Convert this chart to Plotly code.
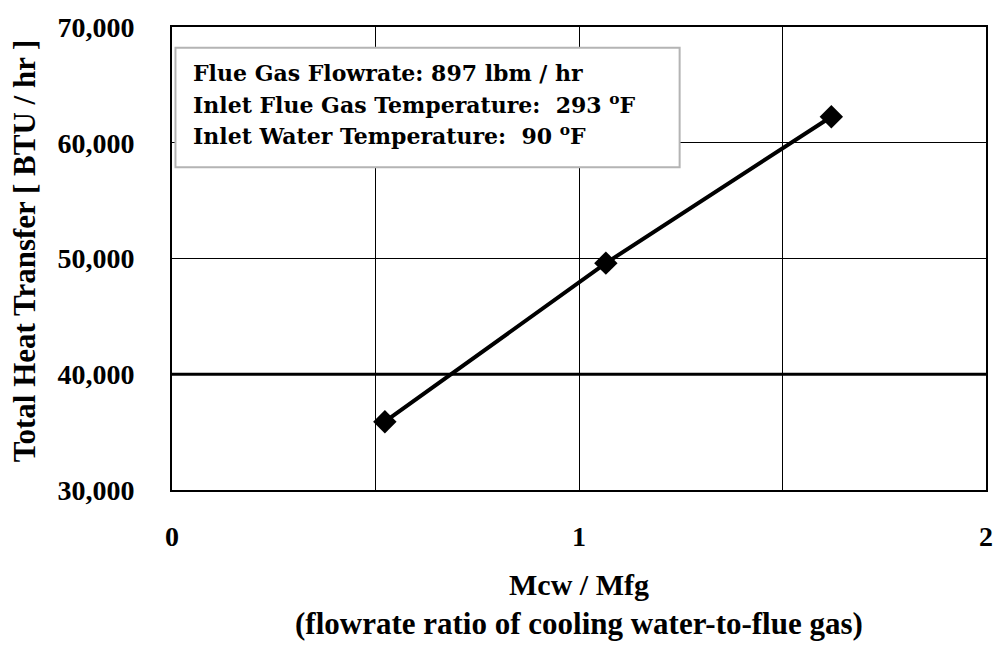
import plotly.graph_objects as go

# Heat recovery test: total heat transfer vs. cooling water / flue gas flow ratio
flow_ratio = [0.523, 1.066, 1.620]
heat_transfer = [35900, 49600, 62250]

x_tick_vals = [0, 1, 2]
x_tick_text = ["0", "1", "2"]
y_tick_vals = [30000, 40000, 50000, 60000, 70000]
y_tick_text = ["30,000", "40,000", "50,000", "60,000", "70,000"]

info_lines = [
    "Flue Gas Flowrate: 897 lbm / hr",
    "Inlet Flue Gas Temperature:\u00a0\u00a0293 <sup>o</sup>F",
    "Inlet Water Temperature:\u00a0\u00a090 <sup>o</sup>F",
]

FONT = "Liberation Serif"
BOX_FONT = "DejaVu Serif"

# plot area in pixels (used to place the free-standing labels)
L, T, W, H = 172, 21, 821, 469


def px_x(px):
    return (px - L) / W


def px_y(py):
    return (T + H - py) / H


fig = go.Figure()
fig.add_trace(go.Scatter(
    x=flow_ratio, y=heat_transfer,
    mode="lines+markers",
    line=dict(color="black", width=4),
    marker=dict(symbol="diamond", size=18, color="black"),
    showlegend=False,
))

fig.update_layout(
    width=1005, height=645,
    margin=dict(l=L, r=1005 - L - W, t=T, b=645 - T - H),
    paper_bgcolor="white", plot_bgcolor="white",
    font=dict(family=FONT, color="black"),
    xaxis=dict(
        range=[0, 2], tickvals=x_tick_vals, ticktext=x_tick_text,
        showgrid=True, gridcolor="black", gridwidth=1,
        minor=dict(dtick=0.5, showgrid=True, gridcolor="black", gridwidth=1),
        showline=True, linecolor="black", linewidth=2, mirror=True,
        ticks="", ticklabelstandoff=20,
        tickfont=dict(family=FONT, size=28, weight="bold"),
        zeroline=False,
    ),
    yaxis=dict(
        range=[30000, 70000], tickvals=y_tick_vals, ticktext=y_tick_text,
        showgrid=True, gridcolor="black", gridwidth=1,
        showline=True, linecolor="black", linewidth=2, mirror=True,
        ticks="", ticklabelstandoff=30,
        tickfont=dict(family=FONT, size=28, weight="bold"),
        zeroline=False,
    ),
)

# heavier horizontal rule at 40,000
fig.add_shape(type="line", xref="paper", x0=0, x1=1, yref="y",
              y0=y_tick_vals[1], y1=y_tick_vals[1],
              line=dict(color="black", width=3), layer="below")

# axis titles
fig.add_annotation(
    text="<b>Total Heat Transfer [ BTU / hr ]</b>", textangle=-90,
    xref="paper", yref="paper", x=px_x(23), y=px_y(248),
    xanchor="center", yanchor="middle",
    showarrow=False, font=dict(family=FONT, size=31),
)
fig.add_annotation(
    text="<b>Mcw / Mfg</b>", xref="paper", yref="paper",
    x=0.5, y=px_y(586), xanchor="center", yanchor="middle",
    showarrow=False, font=dict(family=FONT, size=30),
)
fig.add_annotation(
    text="<b>(flowrate ratio of cooling water-to-flue gas)</b>",
    xref="paper", yref="paper",
    x=0.5, y=px_y(625), xanchor="center", yanchor="middle",
    showarrow=False, font=dict(family=FONT, size=31),
)

# conditions box
fig.add_shape(type="rect", xref="paper", yref="paper",
              x0=px_x(175.5), x1=px_x(684), y0=px_y(163), y1=px_y(42),
              line=dict(color="#b4b4b4", width=2), fillcolor="white", layer="above")
for i, line in enumerate(info_lines):
    fig.add_annotation(
        text="<b>" + line + "</b>", xref="paper", yref="paper",
        x=px_x(191), xanchor="left", y=px_y(68 + 31 * i), yanchor="middle",
        showarrow=False, font=dict(family=BOX_FONT, size=22),
    )

fig.write_html("out.html")
